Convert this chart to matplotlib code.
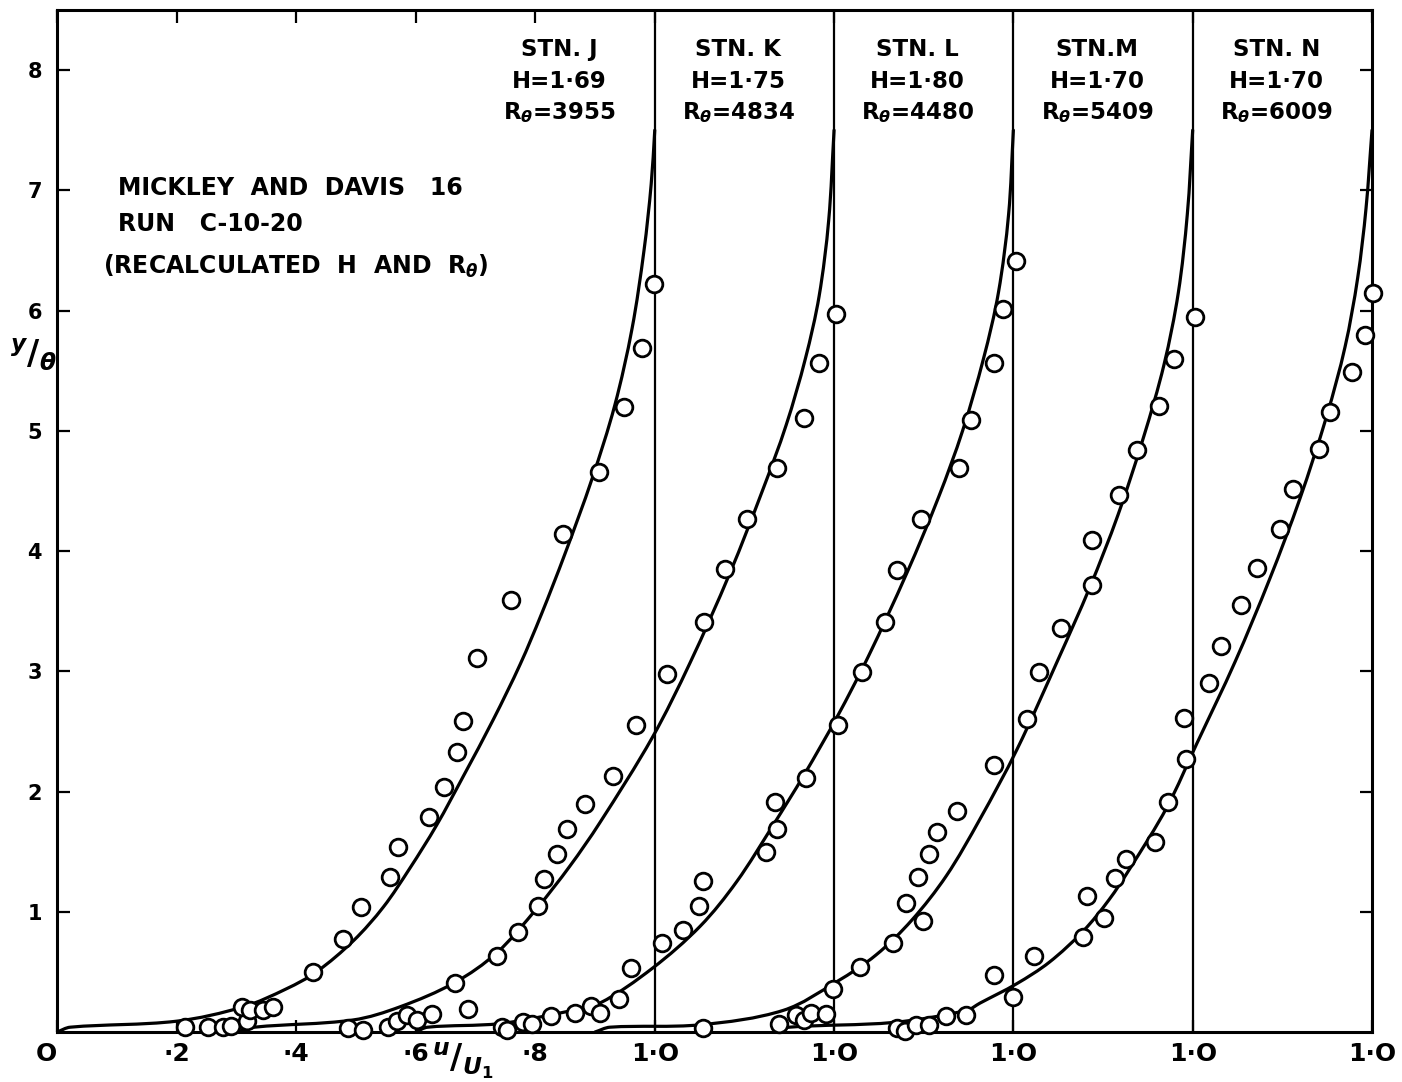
import matplotlib.pyplot as plt
from matplotlib.path import Path
from matplotlib.patches import PathPatch

plt.rcParams['font.family'] = ['DejaVu Sans']
plt.rcParams['font.weight'] = 'bold'
plt.rcParams['mathtext.fontset'] = 'dejavusans'

# each station is drawn 0.3 further right along the u/U1 axis
shift = 0.3

# measured points (u/U1, y/theta)
j_u = [0.214, 0.252, 0.277, 0.291, 0.317, 0.309, 0.323, 0.344, 0.362, 0.428, 0.479, 0.508, 0.557,
       0.571, 0.623, 0.647, 0.669, 0.680, 0.702, 0.760, 0.847, 0.907, 0.949, 0.978, 0.999]
j_y = [0.04, 0.04, 0.04, 0.05, 0.09, 0.21, 0.18, 0.18, 0.21, 0.50, 0.77, 1.04, 1.29,
       1.54, 1.79, 2.04, 2.33, 2.59, 3.11, 3.59, 4.14, 4.66, 5.20, 5.69, 6.22]

k_u = [0.187, 0.212, 0.254, 0.268, 0.285, 0.302, 0.327, 0.388, 0.365, 0.436, 0.471, 0.505, 0.514,
       0.537, 0.553, 0.583, 0.630, 0.669, 0.720, 0.782, 0.817, 0.855, 0.904, 0.949, 0.975, 1.003]
k_y = [0.03, 0.02, 0.04, 0.09, 0.14, 0.10, 0.15, 0.19, 0.41, 0.63, 0.83, 1.05, 1.27,
       1.48, 1.69, 1.90, 2.13, 2.55, 2.98, 3.41, 3.85, 4.27, 4.69, 5.11, 5.56, 5.97]

l_u = [0.144, 0.153, 0.179, 0.195, 0.227, 0.267, 0.293, 0.308, 0.340, 0.360, 0.412, 0.448, 0.474, 0.481,
       0.586, 0.605, 0.601, 0.653, 0.706, 0.747, 0.786, 0.806, 0.846, 0.909, 0.929, 0.967, 0.983, 1.004]
l_y = [0.04, 0.02, 0.08, 0.07, 0.13, 0.16, 0.22, 0.16, 0.275, 0.53, 0.74, 0.85, 1.05, 1.26,
       1.50, 1.69, 1.91, 2.11, 2.55, 2.99, 3.41, 3.84, 4.27, 4.69, 5.09, 5.56, 6.01, 6.41]

m_u = [0.181, 0.308, 0.336, 0.349, 0.361, 0.387, 0.398, 0.443, 0.498, 0.520, 0.548, 0.541, 0.558,
       0.573, 0.606, 0.668, 0.723, 0.743, 0.780, 0.832, 0.831, 0.877, 0.906, 0.944, 0.969, 1.004]
m_y = [0.03, 0.07, 0.14, 0.10, 0.16, 0.15, 0.36, 0.54, 0.74, 1.07, 0.925, 1.29, 1.48,
       1.66, 1.84, 2.22, 2.60, 2.99, 3.36, 3.72, 4.09, 4.47, 4.84, 5.21, 5.60, 5.95]

n_u = [0.205, 0.219, 0.237, 0.258, 0.287, 0.321, 0.368, 0.399, 0.435, 0.517, 0.524, 0.552, 0.570, 0.589,
       0.637, 0.658, 0.686, 0.688, 0.727, 0.747, 0.781, 0.807, 0.846, 0.868, 0.912, 0.929, 0.967, 0.989, 1.001]
n_y = [0.03, 0.01, 0.06, 0.06, 0.13, 0.14, 0.475, 0.29, 0.63, 0.79, 1.13, 0.95, 1.28, 1.44,
       1.58, 1.91, 2.61, 2.27, 2.90, 3.21, 3.55, 3.86, 4.18, 4.52, 4.85, 5.16, 5.49, 5.80, 6.15]

# calculated profiles
j_fit_u = [0, 0.022, 0.2, 0.312, 0.384, 0.434, 0.496, 0.546, 0.59, 0.635, 0.68, 0.73, 0.775, 0.81,
           0.85, 0.895, 0.933, 0.962, 0.982, 0.994, 1.0]
j_fit_y = [0, 0.04, 0.09, 0.21, 0.36, 0.50, 0.76, 1.04, 1.36, 1.72, 2.13, 2.60, 3.06, 3.47,
           3.98, 4.60, 5.21, 5.85, 6.5, 7.05, 7.5]

k_fit_u = [0, 0.03, 0.195, 0.274, 0.365, 0.436, 0.503, 0.558, 0.608, 0.696, 0.759, 0.826,
           0.880, 0.920, 0.952, 0.975, 0.991, 1.0]
k_fit_y = [0, 0.04, 0.10, 0.21, 0.41, 0.66, 1.03, 1.38, 1.74, 2.45, 3.07, 3.82,
           4.50, 5.05, 5.60, 6.12, 6.75, 7.5]

l_fit_u = [0, 0.02, 0.141, 0.253, 0.308, 0.396, 0.476, 0.537, 0.598, 0.650, 0.705, 0.757, 0.822,
           0.875, 0.915, 0.950, 0.975, 0.992, 1.0]
l_fit_y = [0, 0.04, 0.07, 0.17, 0.24, 0.53, 0.88, 1.25, 1.72, 2.14, 2.62, 3.12, 3.82,
           4.45, 5.0, 5.6, 6.15, 6.8, 7.5]

m_fit_u = [0, 0.025, 0.176, 0.315, 0.405, 0.47, 0.53, 0.588, 0.644, 0.706, 0.775, 0.828, 0.875,
           0.918, 0.952, 0.976, 0.991, 1.0]
m_fit_y = [0, 0.04, 0.06, 0.18, 0.42, 0.64, 0.93, 1.30, 1.77, 2.35, 3.1, 3.70, 4.30,
           4.95, 5.55, 6.15, 6.8, 7.5]

n_fit_u = [0, 0.025, 0.2, 0.322, 0.344, 0.405, 0.46, 0.517, 0.56, 0.595, 0.657, 0.707, 0.771,
           0.829, 0.879, 0.924, 0.955, 0.976, 0.990, 1.0]
n_fit_y = [0, 0.04, 0.08, 0.18, 0.24, 0.40, 0.58, 0.84, 1.10, 1.36, 1.87, 2.40, 3.08,
           3.77, 4.43, 5.12, 5.70, 6.27, 6.85, 7.5]

stn_names = ['STN. J', 'STN. K', 'STN. L', 'STN.M', 'STN. N']
stn_H = ['H=1·69', 'H=1·75', 'H=1·80', 'H=1·70', 'H=1·70']
stn_R = ['3955', '4834', '4480', '5409', '6009']

x_ticks = [0, 0.2, 0.4, 0.6, 0.8, 1.0, 1.3, 1.6, 1.9, 2.2]
x_labels = ['O', '·2', '·4', '·6', '·8', '1·O', '1·O', '1·O', '1·O', '1·O']
y_ticks = [1, 2, 3, 4, 5, 6, 7, 8]

stations = [
    (j_u, j_y, j_fit_u, j_fit_y),
    (k_u, k_y, k_fit_u, k_fit_y),
    (l_u, l_y, l_fit_u, l_fit_y),
    (m_u, m_y, m_fit_u, m_fit_y),
    (n_u, n_y, n_fit_u, n_fit_y),
]


def smooth_path(xs, ys, sx=598.0, sy=120.0):
    # cubic bezier through every point; tangents worked out in screen-like
    # units so the steep and the flat stretches both bend evenly
    pts = [(x * sx, y * sy) for x, y in zip(xs, ys)]
    n = len(pts)

    def unit(a, b):
        dx, dy = b[0] - a[0], b[1] - a[1]
        d = (dx * dx + dy * dy) ** 0.5 or 1.0
        return dx / d, dy / d

    tang = []
    for i in range(n):
        a = pts[max(i - 1, 0)]
        b = pts[min(i + 1, n - 1)]
        tang.append(unit(a, b))

    verts = [pts[0]]
    codes = [Path.MOVETO]
    for i in range(n - 1):
        p1, p2 = pts[i], pts[i + 1]
        seg = ((p2[0] - p1[0]) ** 2 + (p2[1] - p1[1]) ** 2) ** 0.5 / 3
        c1 = (p1[0] + tang[i][0] * seg, p1[1] + tang[i][1] * seg)
        c2 = (p2[0] - tang[i + 1][0] * seg, p2[1] - tang[i + 1][1] * seg)
        verts += [c1, c2, p2]
        codes += [Path.CURVE4] * 3
    verts = [(x / sx, y / sy) for x, y in verts]
    return Path(verts, codes)


fig = plt.figure(figsize=(14.02, 10.82), dpi=100)
ax = fig.add_axes([0.0407, 0.0462, 0.9379, 0.9446])

for i, (pu, py, cu, cy) in enumerate(stations):
    off = i * shift
    curve = smooth_path([u + off for u in cu], cy)
    ax.add_patch(PathPatch(curve, facecolor='none', edgecolor='black', lw=2.3,
                           capstyle='round', joinstyle='round', zorder=2))
    ax.plot([u + off for u in pu], py, 'o', ms=12, mfc='white', mec='black',
            mew=2.0, zorder=3, clip_on=False)
    if i < len(stations) - 1:
        ax.axvline(1.0 + off, color='black', lw=1.6, zorder=1)
    xc = off + 0.84
    ax.text(xc, 8.12, stn_names[i], ha='center', va='baseline', fontsize=16.5)
    ax.text(xc, 7.85, stn_H[i], ha='center', va='baseline', fontsize=16.5)
    ax.text(xc, 7.59, r'R$_\theta$=' + stn_R[i], ha='center', va='baseline', fontsize=16.5)

ax.text(0.102, 7.02, 'MICKLEY  AND  DAVIS   16', ha='left', va='center', fontsize=17)
ax.text(0.102, 6.72, 'RUN   C-10-20', ha='left', va='center', fontsize=17)
ax.text(0.077, 6.37, r'(RECALCULATED  H  AND  R$_\theta$)', ha='left', va='center', fontsize=17)

ax.set_xlim(0, 2.2)
ax.set_ylim(0, 8.5)
ax.set_xticks(x_ticks)
ax.set_xticklabels(x_labels)
ax.set_yticks(y_ticks)
ax.set_yticklabels([str(v) for v in y_ticks])
ax.xaxis.get_ticklabels()[0].set_horizontalalignment('right')

ax.tick_params(axis='x', direction='in', top=True, length=9, width=1.6,
               pad=7, labelsize=18)
ax.tick_params(axis='y', direction='in', right=True, length=9, width=1.6,
               pad=11, labelsize=15)
for s in ax.spines.values():
    s.set_linewidth(2.2)

fig.text(0.330, 0.020, r'$^{u}/_{U_1}$', ha='center', va='center', fontsize=24)
fig.text(0.0235, 0.672, r'$^{y}/_{\theta}$', ha='center', va='center', fontsize=24)

fig.savefig('out.png', dpi=100)
